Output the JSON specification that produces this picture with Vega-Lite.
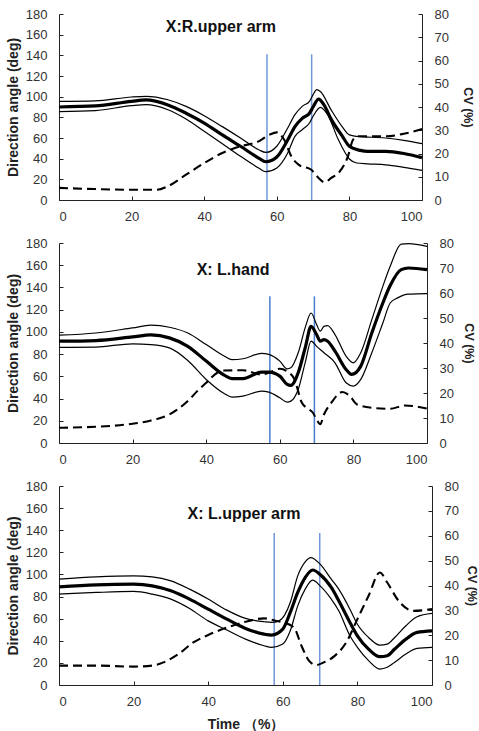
{
  "$schema": "https://vega.github.io/schema/vega-lite/v6.json",
  "padding": {"left": 6, "top": 8, "right": 0, "bottom": 2},
  "bounds": "flush",
  "spacing": 43,
  "datasets": {
    "ang": [
      {"p":1,"s":"mean","t":0,"v":90},{"p":1,"s":"mean","t":10,"v":91},{"p":1,"s":"mean","t":20,"v":95.5},{"p":1,"s":"mean","t":24,"v":96.8},{"p":1,"s":"mean","t":30,"v":92},{"p":1,"s":"mean","t":35,"v":84},{"p":1,"s":"mean","t":40,"v":74.5},{"p":1,"s":"mean","t":45,"v":63},{"p":1,"s":"mean","t":50,"v":52},{"p":1,"s":"mean","t":55,"v":40.6},{"p":1,"s":"mean","t":57,"v":37},{"p":1,"s":"mean","t":60,"v":41.6},{"p":1,"s":"mean","t":63,"v":58},{"p":1,"s":"mean","t":65,"v":71},{"p":1,"s":"mean","t":67,"v":79},{"p":1,"s":"mean","t":69,"v":84},{"p":1,"s":"mean","t":70,"v":90},{"p":1,"s":"mean","t":71.5,"v":97.7},{"p":1,"s":"mean","t":73,"v":92},{"p":1,"s":"mean","t":75,"v":78},{"p":1,"s":"mean","t":78,"v":62},{"p":1,"s":"mean","t":80,"v":52},{"p":1,"s":"mean","t":83,"v":48},{"p":1,"s":"mean","t":85,"v":47},{"p":1,"s":"mean","t":90,"v":47},{"p":1,"s":"mean","t":95,"v":45},{"p":1,"s":"mean","t":100,"v":41},
      {"p":1,"s":"upper","t":0,"v":95.5},{"p":1,"s":"upper","t":10,"v":96},{"p":1,"s":"upper","t":20,"v":99.7},{"p":1,"s":"upper","t":24,"v":100.3},{"p":1,"s":"upper","t":30,"v":97},{"p":1,"s":"upper","t":35,"v":90.6},{"p":1,"s":"upper","t":40,"v":81.6},{"p":1,"s":"upper","t":45,"v":71},{"p":1,"s":"upper","t":50,"v":60},{"p":1,"s":"upper","t":55,"v":48.7},{"p":1,"s":"upper","t":57,"v":46},{"p":1,"s":"upper","t":60,"v":52},{"p":1,"s":"upper","t":63,"v":69.7},{"p":1,"s":"upper","t":65,"v":82.6},{"p":1,"s":"upper","t":67,"v":90.6},{"p":1,"s":"upper","t":69,"v":95.5},{"p":1,"s":"upper","t":70,"v":102},{"p":1,"s":"upper","t":71,"v":106.8},{"p":1,"s":"upper","t":72,"v":105},{"p":1,"s":"upper","t":75,"v":87},{"p":1,"s":"upper","t":78,"v":71},{"p":1,"s":"upper","t":80,"v":63},{"p":1,"s":"upper","t":82,"v":61.6},{"p":1,"s":"upper","t":90,"v":60},{"p":1,"s":"upper","t":95,"v":57.7},{"p":1,"s":"upper","t":100,"v":54.5},
      {"p":1,"s":"lower","t":0,"v":85.5},{"p":1,"s":"lower","t":10,"v":86.5},{"p":1,"s":"lower","t":20,"v":91.3},{"p":1,"s":"lower","t":24,"v":92.3},{"p":1,"s":"lower","t":30,"v":87.4},{"p":1,"s":"lower","t":35,"v":78.4},{"p":1,"s":"lower","t":40,"v":66.5},{"p":1,"s":"lower","t":45,"v":54.5},{"p":1,"s":"lower","t":50,"v":42.3},{"p":1,"s":"lower","t":55,"v":31},{"p":1,"s":"lower","t":57,"v":27.4},{"p":1,"s":"lower","t":60,"v":31},{"p":1,"s":"lower","t":63,"v":45.5},{"p":1,"s":"lower","t":65,"v":61.6},{"p":1,"s":"lower","t":67,"v":68},{"p":1,"s":"lower","t":69,"v":74.5},{"p":1,"s":"lower","t":70,"v":81},{"p":1,"s":"lower","t":72,"v":89.7},{"p":1,"s":"lower","t":74,"v":82.6},{"p":1,"s":"lower","t":77,"v":58},{"p":1,"s":"lower","t":80,"v":39.7},{"p":1,"s":"lower","t":82,"v":35.8},{"p":1,"s":"lower","t":85,"v":35},{"p":1,"s":"lower","t":90,"v":34},{"p":1,"s":"lower","t":95,"v":31.6},{"p":1,"s":"lower","t":100,"v":28.7},
      {"p":2,"s":"mean","t":0,"v":91.6},{"p":2,"s":"mean","t":10,"v":92.2},{"p":2,"s":"mean","t":20,"v":95.5},{"p":2,"s":"mean","t":25,"v":97.3},{"p":2,"s":"mean","t":30,"v":94.6},{"p":2,"s":"mean","t":35,"v":87},{"p":2,"s":"mean","t":40,"v":73.7},{"p":2,"s":"mean","t":45,"v":60.8},{"p":2,"s":"mean","t":47,"v":58},{"p":2,"s":"mean","t":50,"v":58},{"p":2,"s":"mean","t":55,"v":63.8},{"p":2,"s":"mean","t":57,"v":63.8},{"p":2,"s":"mean","t":60,"v":60.2},{"p":2,"s":"mean","t":62,"v":52.7},{"p":2,"s":"mean","t":63,"v":51.8},{"p":2,"s":"mean","t":65,"v":63.2},{"p":2,"s":"mean","t":67,"v":87},{"p":2,"s":"mean","t":68.5,"v":105},{"p":2,"s":"mean","t":70,"v":97.6},{"p":2,"s":"mean","t":71,"v":91.6},{"p":2,"s":"mean","t":72,"v":93},{"p":2,"s":"mean","t":73,"v":91.6},{"p":2,"s":"mean","t":75,"v":82.7},{"p":2,"s":"mean","t":78,"v":66.2},{"p":2,"s":"mean","t":79.5,"v":61.7},{"p":2,"s":"mean","t":82,"v":69.2},{"p":2,"s":"mean","t":85,"v":99},{"p":2,"s":"mean","t":88,"v":126},{"p":2,"s":"mean","t":90,"v":141.7},{"p":2,"s":"mean","t":93,"v":156},{"p":2,"s":"mean","t":95,"v":157.5},{"p":2,"s":"mean","t":100,"v":156},
      {"p":2,"s":"upper","t":0,"v":97},{"p":2,"s":"upper","t":10,"v":99},{"p":2,"s":"upper","t":20,"v":103.6},{"p":2,"s":"upper","t":25,"v":106},{"p":2,"s":"upper","t":30,"v":104.2},{"p":2,"s":"upper","t":35,"v":99},{"p":2,"s":"upper","t":40,"v":88.6},{"p":2,"s":"upper","t":45,"v":78},{"p":2,"s":"upper","t":47,"v":75},{"p":2,"s":"upper","t":50,"v":75.8},{"p":2,"s":"upper","t":55,"v":80.6},{"p":2,"s":"upper","t":57,"v":79.7},{"p":2,"s":"upper","t":60,"v":73.7},{"p":2,"s":"upper","t":62,"v":66.8},{"p":2,"s":"upper","t":63,"v":67.7},{"p":2,"s":"upper","t":65,"v":81.2},{"p":2,"s":"upper","t":67,"v":105},{"p":2,"s":"upper","t":68.5,"v":117},{"p":2,"s":"upper","t":70,"v":106.6},{"p":2,"s":"upper","t":71,"v":100.6},{"p":2,"s":"upper","t":72,"v":105},{"p":2,"s":"upper","t":73,"v":105.7},{"p":2,"s":"upper","t":75,"v":97.6},{"p":2,"s":"upper","t":78,"v":78.2},{"p":2,"s":"upper","t":80,"v":72.2},{"p":2,"s":"upper","t":82,"v":81.2},{"p":2,"s":"upper","t":85,"v":111},{"p":2,"s":"upper","t":88,"v":141},{"p":2,"s":"upper","t":90,"v":159},{"p":2,"s":"upper","t":93,"v":179},{"p":2,"s":"upper","t":95,"v":179.4},{"p":2,"s":"upper","t":100,"v":177},
      {"p":2,"s":"lower","t":0,"v":86},{"p":2,"s":"lower","t":10,"v":86.3},{"p":2,"s":"lower","t":20,"v":89.3},{"p":2,"s":"lower","t":25,"v":88.6},{"p":2,"s":"lower","t":30,"v":85.6},{"p":2,"s":"lower","t":35,"v":74.3},{"p":2,"s":"lower","t":40,"v":57.2},{"p":2,"s":"lower","t":45,"v":44.3},{"p":2,"s":"lower","t":47,"v":41.3},{"p":2,"s":"lower","t":50,"v":42.2},{"p":2,"s":"lower","t":55,"v":46.7},{"p":2,"s":"lower","t":57,"v":45.8},{"p":2,"s":"lower","t":60,"v":40.7},{"p":2,"s":"lower","t":62,"v":36.8},{"p":2,"s":"lower","t":63,"v":37.7},{"p":2,"s":"lower","t":65,"v":48.2},{"p":2,"s":"lower","t":67,"v":73.7},{"p":2,"s":"lower","t":68.5,"v":91.6},{"p":2,"s":"lower","t":70,"v":87},{"p":2,"s":"lower","t":72,"v":81.2},{"p":2,"s":"lower","t":75,"v":72.2},{"p":2,"s":"lower","t":78,"v":54.2},{"p":2,"s":"lower","t":80,"v":51.2},{"p":2,"s":"lower","t":82,"v":57.2},{"p":2,"s":"lower","t":85,"v":81.2},{"p":2,"s":"lower","t":88,"v":108},{"p":2,"s":"lower","t":90,"v":126},{"p":2,"s":"lower","t":92,"v":130.6},{"p":2,"s":"lower","t":95,"v":134},{"p":2,"s":"lower","t":100,"v":134.5},
      {"p":3,"s":"mean","t":0,"v":88.8},{"p":3,"s":"mean","t":10,"v":90.6},{"p":3,"s":"mean","t":20,"v":91.2},{"p":3,"s":"mean","t":25,"v":89.7},{"p":3,"s":"mean","t":30,"v":85.2},{"p":3,"s":"mean","t":35,"v":77.7},{"p":3,"s":"mean","t":40,"v":68.6},{"p":3,"s":"mean","t":45,"v":59.6},{"p":3,"s":"mean","t":50,"v":51.2},{"p":3,"s":"mean","t":55,"v":46},{"p":3,"s":"mean","t":57,"v":45.2},{"p":3,"s":"mean","t":60,"v":50.6},{"p":3,"s":"mean","t":62,"v":65.6},{"p":3,"s":"mean","t":64,"v":83.7},{"p":3,"s":"mean","t":66,"v":97.2},{"p":3,"s":"mean","t":68,"v":104},{"p":3,"s":"mean","t":70,"v":100},{"p":3,"s":"mean","t":73,"v":88.2},{"p":3,"s":"mean","t":75,"v":76.2},{"p":3,"s":"mean","t":78,"v":56.6},{"p":3,"s":"mean","t":80,"v":44.5},{"p":3,"s":"mean","t":83,"v":32.5},{"p":3,"s":"mean","t":86,"v":25.6},{"p":3,"s":"mean","t":88,"v":26.5},{"p":3,"s":"mean","t":90,"v":32.5},{"p":3,"s":"mean","t":93,"v":41.5},{"p":3,"s":"mean","t":96,"v":47.6},{"p":3,"s":"mean","t":100,"v":49},
      {"p":3,"s":"upper","t":0,"v":95.7},{"p":3,"s":"upper","t":10,"v":97.8},{"p":3,"s":"upper","t":20,"v":98.7},{"p":3,"s":"upper","t":25,"v":97.8},{"p":3,"s":"upper","t":30,"v":94.2},{"p":3,"s":"upper","t":35,"v":86.7},{"p":3,"s":"upper","t":40,"v":77.7},{"p":3,"s":"upper","t":45,"v":67.7},{"p":3,"s":"upper","t":50,"v":60.2},{"p":3,"s":"upper","t":55,"v":57.2},{"p":3,"s":"upper","t":57,"v":56.6},{"p":3,"s":"upper","t":59,"v":58},{"p":3,"s":"upper","t":62,"v":74.6},{"p":3,"s":"upper","t":64,"v":98.7},{"p":3,"s":"upper","t":66,"v":111.4},{"p":3,"s":"upper","t":67.5,"v":115.3},{"p":3,"s":"upper","t":70,"v":109.3},{"p":3,"s":"upper","t":73,"v":95.7},{"p":3,"s":"upper","t":75,"v":86.7},{"p":3,"s":"upper","t":78,"v":68.6},{"p":3,"s":"upper","t":80,"v":55},{"p":3,"s":"upper","t":83,"v":43},{"p":3,"s":"upper","t":86,"v":36},{"p":3,"s":"upper","t":88,"v":37},{"p":3,"s":"upper","t":90,"v":43},{"p":3,"s":"upper","t":93,"v":53.6},{"p":3,"s":"upper","t":96,"v":61.7},{"p":3,"s":"upper","t":100,"v":64.7},
      {"p":3,"s":"lower","t":0,"v":82.2},{"p":3,"s":"lower","t":10,"v":83.7},{"p":3,"s":"lower","t":20,"v":84.6},{"p":3,"s":"lower","t":25,"v":82.2},{"p":3,"s":"lower","t":30,"v":77.7},{"p":3,"s":"lower","t":35,"v":69.2},{"p":3,"s":"lower","t":40,"v":58},{"p":3,"s":"lower","t":45,"v":49.7},{"p":3,"s":"lower","t":50,"v":41.5},{"p":3,"s":"lower","t":55,"v":35.5},{"p":3,"s":"lower","t":57,"v":34},{"p":3,"s":"lower","t":60,"v":37},{"p":3,"s":"lower","t":62,"v":49},{"p":3,"s":"lower","t":64,"v":71.6},{"p":3,"s":"lower","t":66,"v":86.7},{"p":3,"s":"lower","t":68,"v":94.8},{"p":3,"s":"lower","t":70,"v":89.7},{"p":3,"s":"lower","t":73,"v":77.7},{"p":3,"s":"lower","t":75,"v":67.1},{"p":3,"s":"lower","t":78,"v":44.5},{"p":3,"s":"lower","t":80,"v":34},{"p":3,"s":"lower","t":83,"v":22},{"p":3,"s":"lower","t":86,"v":14.4},{"p":3,"s":"lower","t":88,"v":16},{"p":3,"s":"lower","t":90,"v":20.5},{"p":3,"s":"lower","t":93,"v":28},{"p":3,"s":"lower","t":96,"v":33.1},{"p":3,"s":"lower","t":100,"v":34}
    ],
    "cv": [
      {"p":1,"t":0,"cv":5.2},{"p":1,"t":10,"cv":4.7},{"p":1,"t":20,"cv":4.4},{"p":1,"t":27,"cv":4.4},{"p":1,"t":30,"cv":5.9},{"p":1,"t":35,"cv":10.9},{"p":1,"t":40,"cv":15.9},{"p":1,"t":45,"cv":20.2},{"p":1,"t":50,"cv":23.1},{"p":1,"t":55,"cv":25.2},{"p":1,"t":58,"cv":28.1},{"p":1,"t":60,"cv":29.1},{"p":1,"t":62,"cv":26},{"p":1,"t":64,"cv":18.8},{"p":1,"t":66,"cv":15.2},{"p":1,"t":69.5,"cv":13},{"p":1,"t":71.5,"cv":9.5},{"p":1,"t":73.2,"cv":7.6},{"p":1,"t":75,"cv":9.5},{"p":1,"t":77,"cv":11.6},{"p":1,"t":79.6,"cv":18.8},{"p":1,"t":81,"cv":25.9},{"p":1,"t":82.5,"cv":27.4},{"p":1,"t":85,"cv":27.4},{"p":1,"t":90,"cv":27.4},{"p":1,"t":95,"cv":28.5},{"p":1,"t":100,"cv":30.5},
      {"p":2,"t":0,"cv":6.1},{"p":2,"t":10,"cv":6.5},{"p":2,"t":20,"cv":7.7},{"p":2,"t":25,"cv":9},{"p":2,"t":30,"cv":11.4},{"p":2,"t":35,"cv":16.8},{"p":2,"t":38,"cv":21.4},{"p":2,"t":40,"cv":24.1},{"p":2,"t":43,"cv":28.1},{"p":2,"t":45,"cv":29},{"p":2,"t":50,"cv":29.1},{"p":2,"t":55,"cv":27.4},{"p":2,"t":58,"cv":28.7},{"p":2,"t":60,"cv":29.7},{"p":2,"t":62,"cv":28.7},{"p":2,"t":64,"cv":25.4},{"p":2,"t":66,"cv":16.1},{"p":2,"t":68,"cv":13.4},{"p":2,"t":69,"cv":12.1},{"p":2,"t":70,"cv":9.4},{"p":2,"t":71,"cv":7.5},{"p":2,"t":72,"cv":11.4},{"p":2,"t":74,"cv":16.1},{"p":2,"t":77,"cv":20.4},{"p":2,"t":79,"cv":18.8},{"p":2,"t":81,"cv":15.4},{"p":2,"t":85,"cv":14.1},{"p":2,"t":90,"cv":13.7},{"p":2,"t":94,"cv":15},{"p":2,"t":100,"cv":13.8},
      {"p":3,"t":0,"cv":7.8},{"p":3,"t":10,"cv":7.8},{"p":3,"t":20,"cv":7.4},{"p":3,"t":25,"cv":7.8},{"p":3,"t":28,"cv":9.1},{"p":3,"t":32,"cv":12.4},{"p":3,"t":36,"cv":17.1},{"p":3,"t":40,"cv":20.1},{"p":3,"t":45,"cv":23.1},{"p":3,"t":50,"cv":25.4},{"p":3,"t":55,"cv":26.8},{"p":3,"t":58,"cv":25.8},{"p":3,"t":60,"cv":25.2},{"p":3,"t":63,"cv":23.1},{"p":3,"t":65,"cv":15.8},{"p":3,"t":67,"cv":9.8},{"p":3,"t":69,"cv":8},{"p":3,"t":71,"cv":9.1},{"p":3,"t":74,"cv":11.8},{"p":3,"t":77,"cv":17.1},{"p":3,"t":80,"cv":26.5},{"p":3,"t":83,"cv":35.9},{"p":3,"t":86,"cv":45.2},{"p":3,"t":88,"cv":41.2},{"p":3,"t":91,"cv":33.9},{"p":3,"t":95,"cv":29.8},{"p":3,"t":100,"cv":30.5}
    ],
    "ev": [
      {"p":1,"t":57.3,"top":141},{"p":1,"t":69.6,"top":141},
      {"p":2,"t":57.3,"top":132},{"p":2,"t":69.4,"top":132},
      {"p":3,"t":57.7,"top":137.5},{"p":3,"t":69.9,"top":137.5}
    ],
    "lbl": [
      {"p":1,"name":"X:R.upper arm"},{"p":2,"name":"X: L.hand"},{"p":3,"name":"X: L.upper arm"}
    ]
  },
  "vconcat": [
    {
      "width": 363, "height": 186,
      "layer": [
        {
          "layer": [
            {"data": {"name": "ev"}, "transform": [{"filter": "datum.p == 1"}],
             "mark": {"type": "rule", "color": "#6f97d9", "strokeWidth": 1.5},
             "encoding": {"x": {"field": "t", "type": "quantitative"}, "y": {"field": "top", "type": "quantitative"}, "y2": {"datum": 0}}},
            {"data": {"name": "ang"}, "transform": [{"filter": "datum.p == 1 && datum.s != 'mean'"}],
             "mark": {"type": "line", "color": "#000", "strokeWidth": 1.2, "interpolate": "monotone"},
             "encoding": {"x": {"field": "t", "type": "quantitative"}, "y": {"field": "v", "type": "quantitative"}, "detail": {"field": "s"}}},
            {"data": {"name": "ang"}, "transform": [{"filter": "datum.p == 1 && datum.s == 'mean'"}],
             "mark": {"type": "line", "color": "#000", "strokeWidth": 3.2, "interpolate": "monotone"},
             "encoding": {"x": {"field": "t", "type": "quantitative"}, "y": {"field": "v", "type": "quantitative"}}},
            {"data": {"name": "lbl"}, "transform": [{"filter": "datum.p == 1"}],
             "mark": {"type": "text", "fontSize": 16, "fontWeight": "bold", "color": "#111"},
             "encoding": {"x": {"datum": 44.6}, "y": {"datum": 167}, "text": {"field": "name"}}}
          ],
          "encoding": {
            "x": {"type": "quantitative", "scale": {"domain": [0, 100]}, "axis": {"values": [0,10,20,30,40,50,60,70,80,90,100], "labelExpr": "datum.value % 20 === 0 ? datum.label : ''", "title": null}},
            "y": {"type": "quantitative", "scale": {"domain": [0, 180]}, "axis": {"values": [0,20,40,60,80,100,120,140,160,180], "title": "Direction angle (deg)"}}
          }
        },
        {"data": {"name": "cv"}, "transform": [{"filter": "datum.p == 1"}],
         "mark": {"type": "line", "color": "#000", "strokeWidth": 2.1, "strokeDash": [9, 5], "interpolate": "monotone"},
         "encoding": {"x": {"field": "t", "type": "quantitative", "scale": {"domain": [0, 100]}},
           "y": {"field": "cv", "type": "quantitative", "scale": {"domain": [0, 80]}, "axis": {"orient": "right", "values": [0,10,20,30,40,50,60,70,80], "title": "CV (%)", "titleFontSize": 12.5, "titlePadding": 12}}}}
      ],
      "resolve": {"scale": {"y": "independent"}}
    },
    {
      "width": 368, "height": 200,
      "layer": [
        {
          "layer": [
            {"data": {"name": "ev"}, "transform": [{"filter": "datum.p == 2"}],
             "mark": {"type": "rule", "color": "#4a7cd0", "strokeWidth": 1.5},
             "encoding": {"x": {"field": "t", "type": "quantitative"}, "y": {"field": "top", "type": "quantitative"}, "y2": {"datum": 0}}},
            {"data": {"name": "ang"}, "transform": [{"filter": "datum.p == 2 && datum.s != 'mean'"}],
             "mark": {"type": "line", "color": "#000", "strokeWidth": 1.2, "interpolate": "monotone"},
             "encoding": {"x": {"field": "t", "type": "quantitative"}, "y": {"field": "v", "type": "quantitative"}, "detail": {"field": "s"}}},
            {"data": {"name": "ang"}, "transform": [{"filter": "datum.p == 2 && datum.s == 'mean'"}],
             "mark": {"type": "line", "color": "#000", "strokeWidth": 3.2, "interpolate": "monotone"},
             "encoding": {"x": {"field": "t", "type": "quantitative"}, "y": {"field": "v", "type": "quantitative"}}},
            {"data": {"name": "lbl"}, "transform": [{"filter": "datum.p == 2"}],
             "mark": {"type": "text", "fontSize": 16, "fontWeight": "bold", "color": "#111"},
             "encoding": {"x": {"datum": 47.3}, "y": {"datum": 156}, "text": {"field": "name"}}}
          ],
          "encoding": {
            "x": {"type": "quantitative", "scale": {"domain": [0, 100]}, "axis": {"values": [0,10,20,30,40,50,60,70,80,90,100], "labelExpr": "datum.value % 20 === 0 ? datum.label : ''", "title": null}},
            "y": {"type": "quantitative", "scale": {"domain": [0, 180]}, "axis": {"values": [0,20,40,60,80,100,120,140,160,180], "title": "Direction angle (deg)"}}
          }
        },
        {"data": {"name": "cv"}, "transform": [{"filter": "datum.p == 2"}],
         "mark": {"type": "line", "color": "#000", "strokeWidth": 2.1, "strokeDash": [9, 5], "interpolate": "monotone"},
         "encoding": {"x": {"field": "t", "type": "quantitative", "scale": {"domain": [0, 100]}},
           "y": {"field": "cv", "type": "quantitative", "scale": {"domain": [0, 80]}, "axis": {"orient": "right", "values": [0,10,20,30,40,50,60,70,80], "title": "CV (%)", "titleFontSize": 12.5, "titlePadding": 8}}}}
      ],
      "resolve": {"scale": {"y": "independent"}}
    },
    {
      "width": 373, "height": 199,
      "layer": [
        {
          "layer": [
            {"data": {"name": "ev"}, "transform": [{"filter": "datum.p == 3"}],
             "mark": {"type": "rule", "color": "#6f97d9", "strokeWidth": 1.5},
             "encoding": {"x": {"field": "t", "type": "quantitative"}, "y": {"field": "top", "type": "quantitative"}, "y2": {"datum": 0}}},
            {"data": {"name": "ang"}, "transform": [{"filter": "datum.p == 3 && datum.s != 'mean'"}],
             "mark": {"type": "line", "color": "#000", "strokeWidth": 1.2, "interpolate": "monotone"},
             "encoding": {"x": {"field": "t", "type": "quantitative"}, "y": {"field": "v", "type": "quantitative"}, "detail": {"field": "s"}}},
            {"data": {"name": "ang"}, "transform": [{"filter": "datum.p == 3 && datum.s == 'mean'"}],
             "mark": {"type": "line", "color": "#000", "strokeWidth": 3.2, "interpolate": "monotone"},
             "encoding": {"x": {"field": "t", "type": "quantitative"}, "y": {"field": "v", "type": "quantitative"}}},
            {"data": {"name": "lbl"}, "transform": [{"filter": "datum.p == 3"}],
             "mark": {"type": "text", "fontSize": 16, "fontWeight": "bold", "color": "#111"},
             "encoding": {"x": {"datum": 49.6}, "y": {"datum": 154.4}, "text": {"field": "name"}}}
          ],
          "encoding": {
            "x": {"type": "quantitative", "scale": {"domain": [0, 100]}, "axis": {"values": [0,10,20,30,40,50,60,70,80,90,100], "labelExpr": "datum.value % 20 === 0 ? datum.label : ''", "title": "Time （%）", "titlePadding": 9}},
            "y": {"type": "quantitative", "scale": {"domain": [0, 180]}, "axis": {"values": [0,20,40,60,80,100,120,140,160,180], "title": "Direction angle (deg)"}}
          }
        },
        {"data": {"name": "cv"}, "transform": [{"filter": "datum.p == 3"}],
         "mark": {"type": "line", "color": "#000", "strokeWidth": 2.1, "strokeDash": [9, 5], "interpolate": "monotone"},
         "encoding": {"x": {"field": "t", "type": "quantitative", "scale": {"domain": [0, 100]}},
           "y": {"field": "cv", "type": "quantitative", "scale": {"domain": [0, 80]}, "axis": {"orient": "right", "values": [0,10,20,30,40,50,60,70,80], "title": "CV (%)", "titleFontSize": 12.5, "titlePadding": 6}}}}
      ],
      "resolve": {"scale": {"y": "independent"}}
    }
  ],
  "config": {
    "font": "Liberation Sans",
    "view": {"stroke": null},
    "axis": {
      "grid": false,
      "domainColor": "#222", "tickColor": "#222",
      "labelColor": "#333", "labelFontSize": 13, "labelFont": "Liberation Sans",
      "titleFont": "Liberation Sans", "titleColor": "#222", "titleFontWeight": "bold", "titleFontSize": 14,
      "tickSize": -4, "labelPadding": 16, "titlePadding": 5
    },
    "axisX": {"labelPadding": 14}
  }
}
